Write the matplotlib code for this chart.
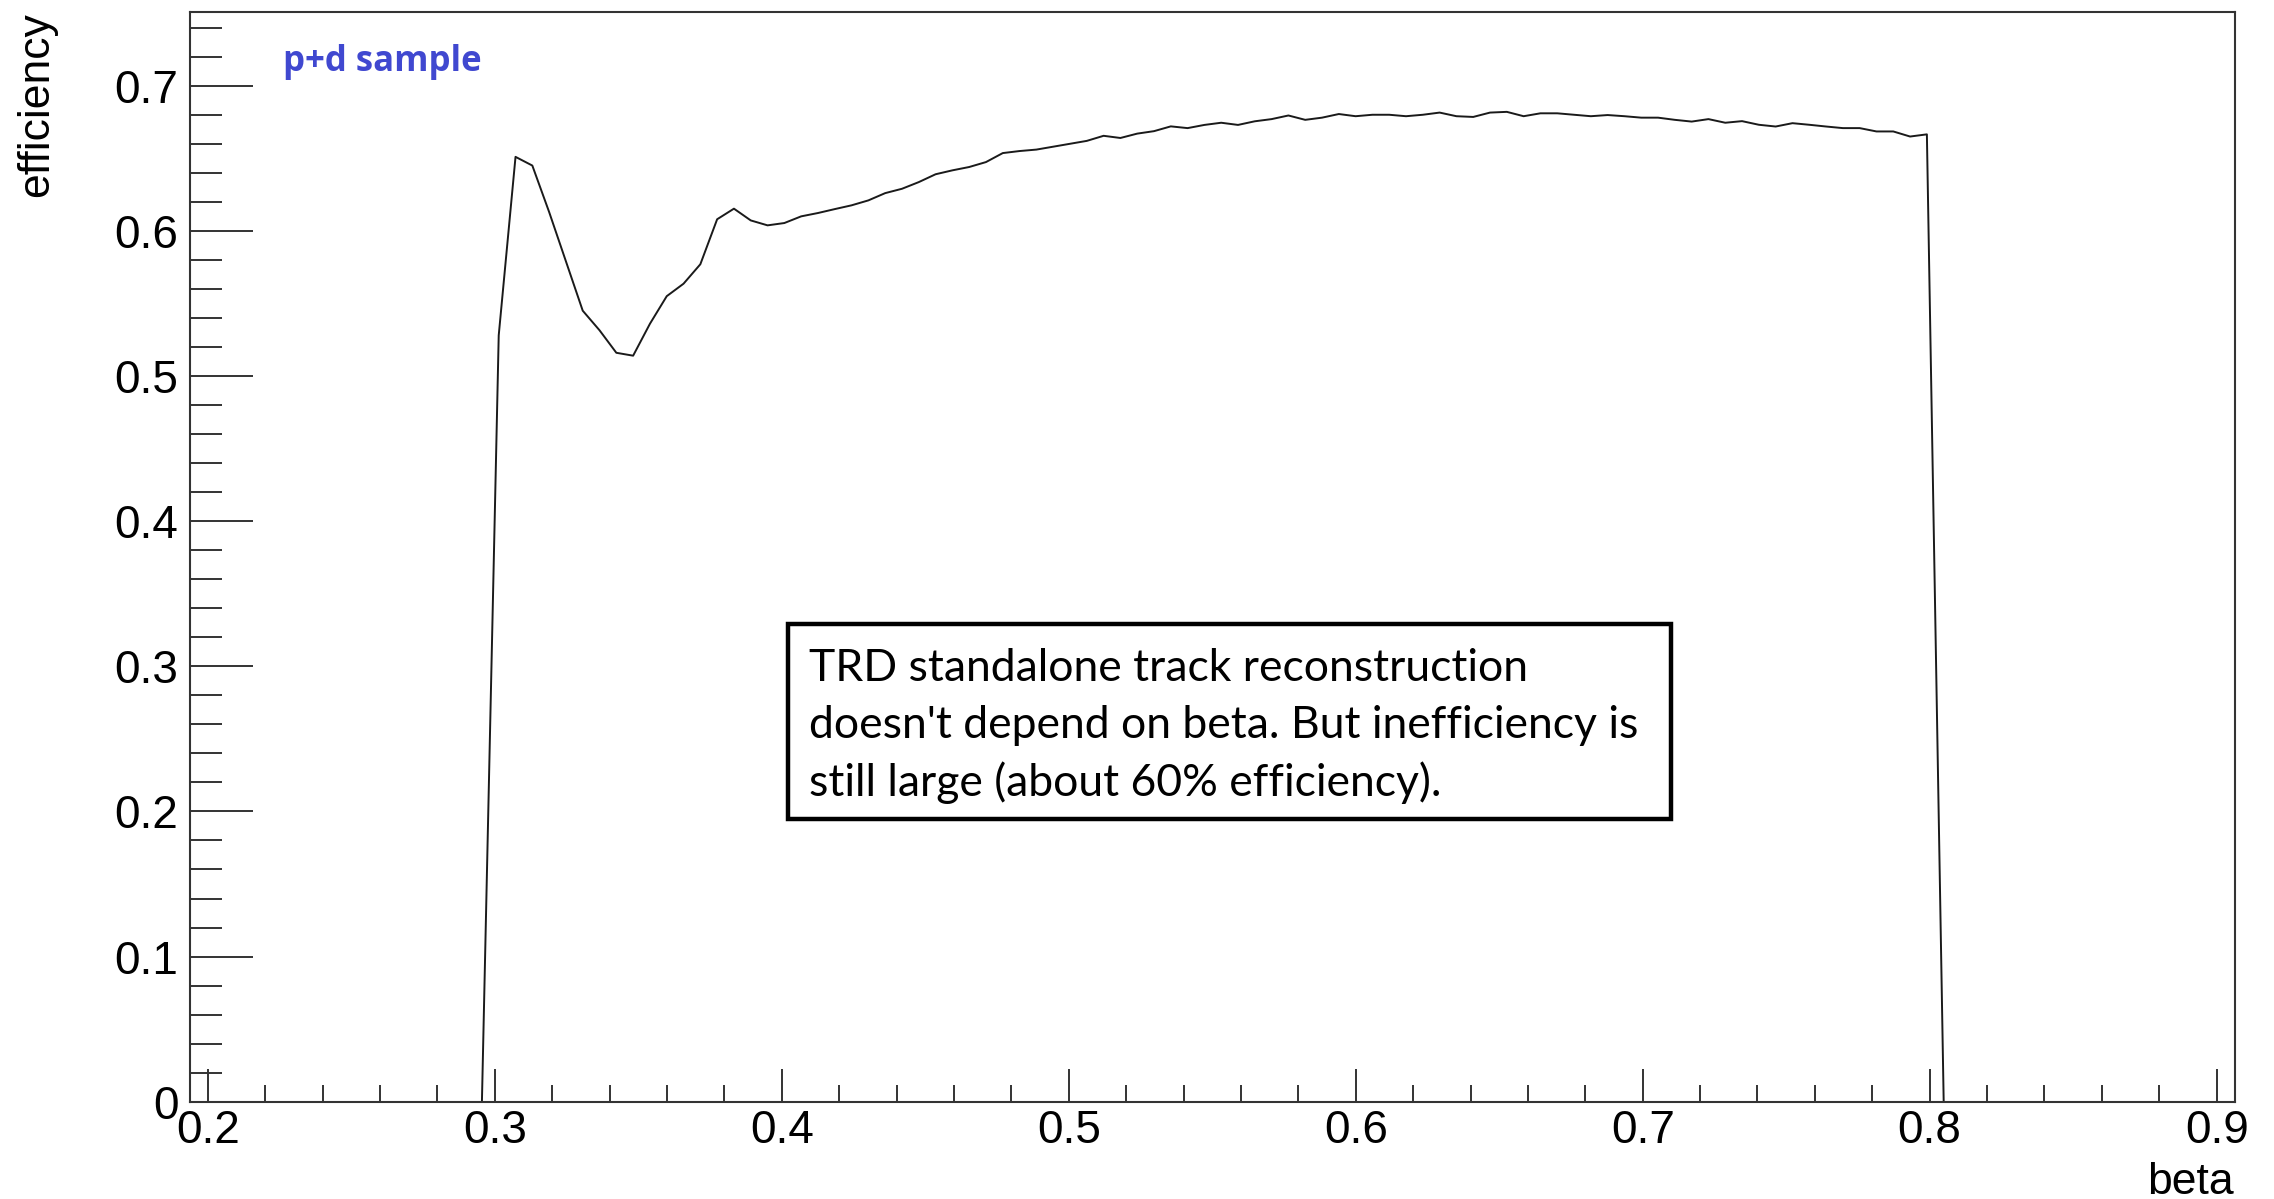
import numpy as np
import matplotlib
matplotlib.use("Agg")
import matplotlib.pyplot as plt
from matplotlib.ticker import MultipleLocator, FuncFormatter
from matplotlib.patches import Rectangle

plt.rcParams['font.family'] = ['Liberation Sans', 'DejaVu Sans']

# TRD standalone efficiency vs beta, one value per histogram bin
bin_start = 0.2955
bin_width = 0.005855
efficiency = [
    0.0, 0.528, 0.651, 0.645, 0.613, 0.579, 0.545, 0.5315, 0.516, 0.514,
    0.536, 0.555, 0.5636, 0.577, 0.608, 0.6153, 0.6072, 0.6038, 0.6054, 0.610,
    0.6123, 0.615, 0.6176, 0.621, 0.626, 0.629, 0.6336, 0.639, 0.6417, 0.644,
    0.6474, 0.6536, 0.655, 0.656, 0.658, 0.660, 0.662, 0.6655, 0.664, 0.667,
    0.6687, 0.672, 0.6708, 0.673, 0.6745, 0.673, 0.6755, 0.677, 0.6795, 0.6765,
    0.678, 0.6805, 0.679, 0.680, 0.680, 0.679, 0.680, 0.6815, 0.679, 0.6785,
    0.6815, 0.682, 0.679, 0.681, 0.681, 0.680, 0.679, 0.6798, 0.679, 0.678,
    0.678, 0.6765, 0.6753, 0.677, 0.6745, 0.6756, 0.6731, 0.6719, 0.6742, 0.6731,
    0.6719, 0.6708, 0.6708, 0.6685, 0.6685, 0.665, 0.6665, 0.0,
]
beta = bin_start + bin_width * np.arange(len(efficiency))

sample_label = 'p+d sample'
note_lines = [
    "TRD standalone track reconstruction",
    "doesn't depend on beta. But inefficiency is",
    "still large (about 60% efficiency).",
]

W, H = 2274, 1199
fig = plt.figure(figsize=(W / 100, H / 100), dpi=100)
ax = fig.add_axes([189.5 / W, 1 - 1101.7 / H, (2235 - 189.5) / W, (1101.7 - 12) / H])

ax.plot(beta, efficiency, color='#1a1a1a', lw=1.4)

ax.set_xlim(0.1936, 0.9064)
ax.set_ylim(0, 0.7508)
ax.xaxis.set_major_locator(MultipleLocator(0.1))
ax.xaxis.set_minor_locator(MultipleLocator(0.02))
ax.yaxis.set_major_locator(MultipleLocator(0.1))
ax.yaxis.set_minor_locator(MultipleLocator(0.02))
ax.xaxis.set_major_formatter(FuncFormatter(lambda v, p: f'{v:.1f}'))
ax.yaxis.set_major_formatter(FuncFormatter(lambda v, p: '0' if abs(v) < 1e-9 else f'{v:.1f}'))

tick_col = '#333333'
ax.tick_params(axis='x', which='major', direction='in', length=24, width=1.4,
               color=tick_col, labelsize=33, pad=5)
ax.tick_params(axis='x', which='minor', direction='in', length=12, width=1.4, color=tick_col)
ax.tick_params(axis='y', which='major', direction='in', length=45, width=1.4,
               color=tick_col, labelsize=33, pad=8)
ax.tick_params(axis='y', which='minor', direction='in', length=23, width=1.4, color=tick_col)
for s in ax.spines.values():
    s.set_linewidth(1.5)
    s.set_color(tick_col)

fig.text(37 / W, 1 - 12 / H, 'efficiency', rotation=90, ha='center', va='top', fontsize=32)
fig.text(2234 / W, 5 / H, 'beta', ha='right', va='baseline', fontsize=32)

fig.text(283 / W, 1 - 71 / H, sample_label, color='#4048d0', fontsize=25,
         fontweight='bold', family='Open Sans', va='baseline')

# comment box
box = Rectangle((788 / W, 1 - 819 / H), (1671 - 788) / W, (819 - 624) / H,
                transform=fig.transFigure, facecolor='white', edgecolor='black', lw=3.2)
fig.add_artist(box)
for i, line in enumerate(note_lines):
    fig.text(809 / W, 1 - (681 + 57.5 * i) / H, line, family='Lato', fontsize=32,
             va='baseline', ha='left')

fig.savefig('out.png', dpi=100)
